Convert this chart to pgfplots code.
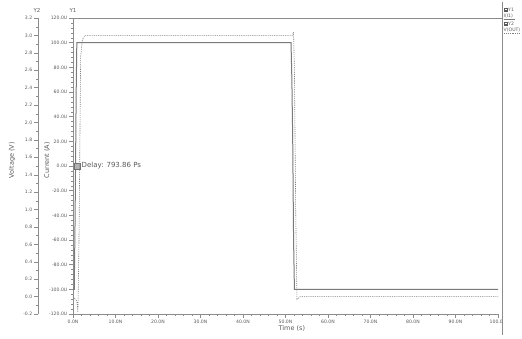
\documentclass[border=0pt]{standalone}
\usepackage{fontspec}
\setmainfont{DejaVu Sans}
\usepackage{pgfplots}
\pgfplotsset{compat=1.18}
\definecolor{axgray}{HTML}{8C8C8C}
\definecolor{txtgray}{HTML}{5A5A5A}
\definecolor{solidc}{HTML}{7A7A7A}
\definecolor{dashc}{HTML}{808080}
\begin{document}
\begin{tikzpicture}
\useasboundingbox (-73pt,-24pt) rectangle (449pt,314pt);
\pgfplotsset{
  common/.style={
    scale only axis, height=296pt,
    tick align=outside, major tick length=4pt, minor tick length=2pt,
    axis line style={axgray, line width=0.8pt},
    tick style={axgray, line width=0.4pt},
    ticklabel style={font=\fontsize{4.6}{5}\selectfont, text=txtgray, inner sep=1.5pt},
    label style={font=\fontsize{6.5}{7}\selectfont, text=txtgray},
  }
}
% Y2 (voltage) axis line only
\begin{axis}[common, at={(-35pt,0)}, anchor=south west, width=10pt,
  xmin=0, xmax=1, hide x axis, axis y line*=left,
  ymin=-0.2, ymax=3.2,
  ytick={-0.2,0,0.2,0.4,0.6,0.8,1.0,1.2,1.4,1.6,1.8,2.0,2.2,2.4,2.6,2.8,3.0,3.2},
  yticklabels={-0.2,0.0,0.2,0.4,0.6,0.8,1.0,1.2,1.4,1.6,1.8,2.0,2.2,2.4,2.6,2.8,3.0,3.2},
  minor y tick num=1,
  ylabel={Voltage (V)},
  ylabel style={at={(axis description cs:0,0.52)}, anchor=center, yshift=26pt},
]
\addplot[draw=none] coordinates {(0,0) (1,0)};
\end{axis}
% Main axis: current
\begin{axis}[common, at={(0,0)}, anchor=south west, width=425pt,
  xmin=0, xmax=100, ymin=-120, ymax=120,
  axis x line*=bottom, axis y line*=left,
  xtick={0,10,...,100},
  xticklabels={0.0N,10.0N,20.0N,30.0N,40.0N,50.0N,60.0N,70.0N,80.0N,90.0N,100.0N},
  minor x tick num=4,
  ytick={-120,-100,...,120},
  yticklabels={-120.0U,-100.0U,-80.0U,-60.0U,-40.0U,-20.0U,0.0U,20.0U,40.0U,60.0U,80.0U,100.0U,120.0U},
  minor y tick num=4,
  xlabel={Time (s)},
  xlabel style={at={(axis description cs:0.515,0)}, anchor=north, yshift=-8pt},
  ylabel={Current (A)},
  ylabel style={at={(axis description cs:0,0.52)}, anchor=center, yshift=26pt},
  clip=false,
]
\addplot[solidc, line width=1pt] coordinates {
 (0,-100) (0.3,-100) (0.5,-40) (0.75,60) (0.9,100) (51.3,100) (51.5,70) (51.7,20) (51.9,-60) (52.1,-100) (100,-100)};
\draw[axgray!80!black, fill=gray!60, line width=0.3pt] (axis cs:0.3,-2.4) rectangle (axis cs:1.7,2.4);
\node[anchor=west, inner sep=0pt, font=\fontsize{7}{8}\selectfont, text=txtgray] at (axis cs:2.0,0) {Delay: 793.86 Ps};
\end{axis}
% Voltage curve on overlaid axis
\begin{axis}[common, at={(0,0)}, anchor=south west, width=425pt,
  xmin=0, xmax=100, ymin=-0.2, ymax=3.2, hide axis, clip=false]
\addplot[dashc, line width=0.6pt, dash pattern=on 1.2pt off 1pt] coordinates {
 (0,0) (0.9,-0.05) (1.15,-0.18) (1.4,0.6) (1.8,2.75) (2.2,2.95) (2.8,3.0)
 (51.6,3.0) (51.9,3.04) (52.1,2.6) (52.4,1.0) (52.7,-0.03) (53.5,0) (100,0)};
\end{axis}
% titles
\node[font=\fontsize{5.5}{6}\selectfont, text=txtgray] at (-36pt,304pt) {Y2};
\node[font=\fontsize{5.5}{6}\selectfont, text=txtgray] at (0pt,304pt) {Y1};
% top line
\draw[axgray, line width=0.8pt] (0,296pt) -- (429pt,296pt);
% legend panel
\fill[white] (429.5pt,-24pt) rectangle (449pt,314pt);
\draw[axgray, line width=0.8pt] (429pt,-21pt) -- (429pt,312pt);
\draw[txtgray, line width=0.3pt] (431pt,302.5pt) rectangle (434pt,305.5pt);
\draw[txtgray, line width=0.3pt] (431pt,304pt) -- (434pt,304pt);
\node[anchor=west, inner sep=0pt, font=\fontsize{4.6}{5}\selectfont, text=txtgray] at (435pt,304pt) {Y1};
\node[anchor=west, inner sep=0pt, font=\fontsize{4.6}{5}\selectfont, text=txtgray] at (430.5pt,297.5pt) {I(I1)};
\draw[solidc, line width=0.6pt] (430.5pt,294.5pt) -- (442pt,294.5pt);
\draw[txtgray, line width=0.3pt] (431pt,288.5pt) rectangle (434pt,291.5pt);
\draw[txtgray, line width=0.3pt] (431pt,290pt) -- (434pt,290pt);
\node[anchor=west, inner sep=0pt, font=\fontsize{4.6}{5}\selectfont, text=txtgray] at (435pt,290pt) {Y2};
\node[anchor=west, inner sep=0pt, font=\fontsize{4.6}{5}\selectfont, text=txtgray] at (430.5pt,283.5pt) {V(OUT)};
\draw[dashc, line width=0.5pt, dash pattern=on 1.2pt off 1pt] (430.5pt,280.5pt) -- (448pt,280.5pt);
\end{tikzpicture}
\end{document}
